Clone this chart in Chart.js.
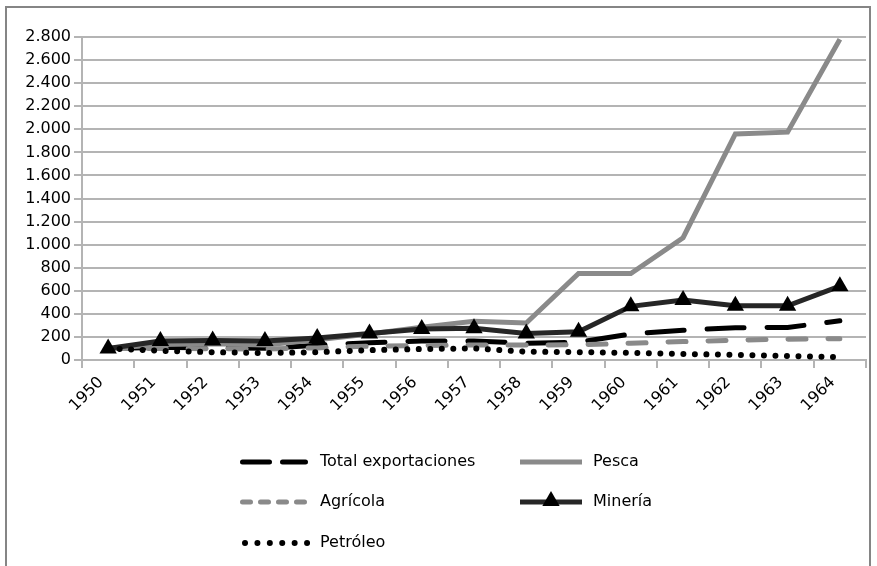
<!DOCTYPE html>
<html><head><meta charset="utf-8">
<script src="https://cdn.jsdelivr.net/npm/chart.js@4.4.0/dist/chart.umd.min.js"></script>
<style>
html,body{margin:0;padding:0;background:#fff;}
#wrap{position:relative;width:877px;height:566px;overflow:hidden;background:#fff;}
#frame{position:absolute;left:5px;top:6px;width:866px;height:620px;border:2px solid #858585;box-sizing:border-box;}
#c{position:absolute;left:0;top:0;}
</style></head><body>
<div id="wrap"><div id="frame"></div><canvas id="c" width="877" height="566"></canvas></div>
<script>
const years = ['1950','1951','1952','1953','1954','1955','1956','1957','1958','1959','1960','1961','1962','1963','1964'];
const totalExportaciones = [100, 108, 105, 102, 128, 150, 165, 165, 145, 155, 225, 258, 280, 282, 340];
const pesca = [100, 135, 140, 130, 175, 225, 285, 335, 320, 750, 750, 1060, 1960, 1975, 2780];
const agricola = [100, 100, 98, 95, 105, 120, 125, 130, 130, 132, 145, 160, 172, 180, 185];
const mineria = [100, 165, 170, 165, 190, 230, 268, 275, 230, 245, 465, 520, 470, 470, 640];
const petroleo = [100, 80, 68, 60, 68, 85, 95, 100, 72, 68, 62, 52, 45, 35, 25];
const seriesNames = ['Total exportaciones','Pesca','Agrícola','Minería','Petróleo'];
const yTicks = [0,200,400,600,800,1000,1200,1400,1600,1800,2000,2200,2400,2600,2800];

const FONT = 'DejaVu Sans';
function fmt(v){ return String(v).replace(/\B(?=(\d{3})+(?!\d))/g,'.'); }

const legendPlugin = {
  id:'customLegend',
  afterDraw(chart){
    const ctx = chart.ctx;
    const ds = chart.data.datasets;
    const slots = [
      {x:240, y:462, tx:320}, {x:520, y:462, tx:593},
      {x:240, y:502, tx:320}, {x:520, y:502, tx:593},
      {x:240, y:543, tx:320}
    ];
    ctx.save();
    slots.forEach((s,i)=>{
      const d = ds[i];
      ctx.strokeStyle = d.borderColor;
      ctx.lineWidth = 5;
      ctx.beginPath();
      if(i===0){ ctx.lineCap='round'; ctx.setLineDash([27,13]); ctx.moveTo(s.x+2.5,s.y); ctx.lineTo(s.x+65.5,s.y); ctx.stroke(); }
      else if(i===2){ ctx.lineCap='round'; ctx.setLineDash([8,10]); ctx.moveTo(s.x+2.5,s.y); ctx.lineTo(s.x+65.5,s.y); ctx.stroke(); }
      else if(i===4){ ctx.lineWidth=6; ctx.lineCap='round'; ctx.setLineDash([0.01,12.4]); ctx.moveTo(s.x+5,s.y); ctx.lineTo(s.x+68,s.y); ctx.stroke(); }
      else { ctx.lineCap='butt'; ctx.setLineDash([]); ctx.moveTo(s.x,s.y); ctx.lineTo(s.x+62,s.y); ctx.stroke();
        if(i===3){ ctx.fillStyle='#000'; ctx.beginPath();
          const r=10, cx=s.x+31, cy=s.y-1; ctx.moveTo(cx, cy-r); ctx.lineTo(cx+r*0.866, cy+r/2); ctx.lineTo(cx-r*0.866, cy+r/2); ctx.closePath(); ctx.fill(); }
      }
      ctx.setLineDash([]);
      ctx.fillStyle = '#000';
      ctx.font = '16px "'+FONT+'"';
      ctx.textAlign='left'; ctx.textBaseline='middle';
      ctx.fillText(seriesNames[i], s.tx, s.y);
    });
    ctx.restore();
  }
};

new Chart(document.getElementById('c'), {
  type:'line',
  data:{
    labels: years,
    datasets:[
      {label:seriesNames[0], data:totalExportaciones, borderColor:'#000', borderWidth:5, borderDash:[37,23], borderCapStyle:'round', pointRadius:0, order:4, tension:0},
      {label:seriesNames[1], data:pesca, borderColor:'#8a8a8a', borderWidth:5, pointRadius:0, order:3, tension:0, borderJoinStyle:'miter'},
      {label:seriesNames[2], data:agricola, borderColor:'#8a8a8a', borderWidth:5, borderDash:[18,22], borderCapStyle:'round', pointRadius:0, order:2, tension:0},
      {label:seriesNames[3], data:mineria, borderColor:'#262626', borderWidth:5, pointStyle:'triangle', pointRadius:10, pointBackgroundColor:'#000', pointBorderColor:'#000', pointBorderWidth:0, order:1, tension:0},
      {label:seriesNames[4], data:petroleo, borderColor:'#000', borderWidth:6, borderDash:[0.01,11.5], borderCapStyle:'round', pointRadius:0, order:0, tension:0}
    ]
  },
  options:{
    responsive:false, animation:false, devicePixelRatio:1,
    layout:{padding:{top:37,right:11,left:0,bottom:0}},
    plugins:{legend:{display:false}, tooltip:{enabled:false}},
    scales:{
      x:{type:'category', offset:true,
        grid:{offset:true, drawOnChartArea:false, drawTicks:true, tickLength:8, color:'#b4b4b4', lineWidth:2},
        border:{color:'#b4b4b4', width:2},
        ticks:{minRotation:45, maxRotation:45, autoSkip:false, color:'#000', font:{family:FONT, size:16}, padding:5, labelOffset:-7},
        afterFit(s){ s.height = 206; }
      },
      y:{min:0, max:2800,
        afterBuildTicks(s){ s.ticks = yTicks.map(v=>({value:v})); },
        ticks:{callback:(v)=>fmt(v), color:'#000', font:{family:FONT, size:16}, padding:3},
        grid:{color:'#b4b4b4', lineWidth:2, tickLength:8, drawTicks:true},
        border:{color:'#b4b4b4', width:2},
        afterFit(s){ s.width = 82; }
      }
    }
  },
  plugins:[legendPlugin]
});
</script>
</body></html>
